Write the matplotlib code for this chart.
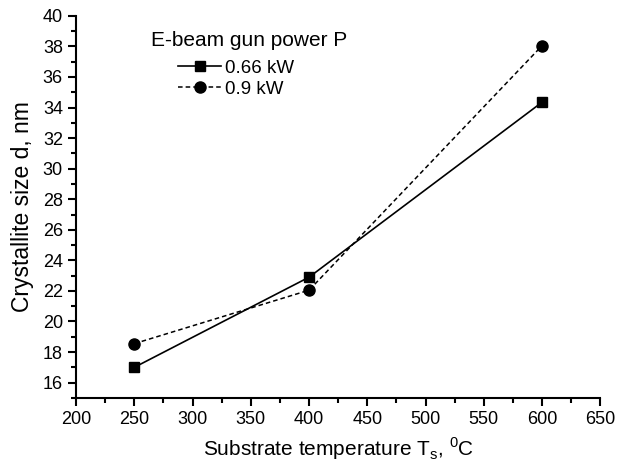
import matplotlib.pyplot as plt
from matplotlib.ticker import MultipleLocator

temps = [250, 400, 600]
size_066 = [17.0, 22.9, 34.35]
size_09 = [18.55, 22.05, 38.05]
labels = ['0.66 kW', '0.9 kW']


def main():
    plt.rcParams['font.family'] = ['Liberation Sans', 'DejaVu Sans']
    fig = plt.figure(figsize=(6.24, 4.67), dpi=100)
    ax = fig.add_axes([0.122, 0.148, 0.84, 0.818])

    ax.plot(temps, size_066, '-', color='black', lw=1.2, marker='s', ms=7,
            label=labels[0])
    ax.plot(temps, size_09, '--', color='black', lw=1.1, marker='o', ms=8,
            dashes=(3, 2), label=labels[1])

    ax.set_xlim(200, 650)
    ax.set_ylim(15, 40)
    ax.xaxis.set_major_locator(MultipleLocator(50))
    ax.xaxis.set_minor_locator(MultipleLocator(25))
    ax.yaxis.set_major_locator(MultipleLocator(2))
    ax.yaxis.set_minor_locator(MultipleLocator(1))
    ax.set_yticks(range(16, 41, 2))

    for side in ['top', 'right']:
        ax.spines[side].set_visible(False)
    for side in ['left', 'bottom']:
        ax.spines[side].set_linewidth(1.5)
    ax.tick_params(which='major', direction='out', length=6, width=1.5,
                   labelsize=13)
    ax.tick_params(which='minor', direction='out', length=3.5, width=1.5)

    ax.set_xlabel('Substrate temperature T$_\\mathregular{s}$, $^\\mathregular{0}$C',
                  fontsize=15, labelpad=5)
    ax.set_ylabel('Crystallite size d, nm', fontsize=16.5, labelpad=6)

    ax.text(0.142, 0.96, 'E-beam gun power P', transform=ax.transAxes,
            fontsize=15, va='top', ha='left')
    ax.legend(loc='upper left', bbox_to_anchor=(0.18, 0.905), frameon=False,
              fontsize=13.5, handlelength=2.3, handletextpad=0.2,
              labelspacing=0.2, borderaxespad=0)

    fig.savefig('out.png', dpi=100)


if __name__ == '__main__':
    main()
